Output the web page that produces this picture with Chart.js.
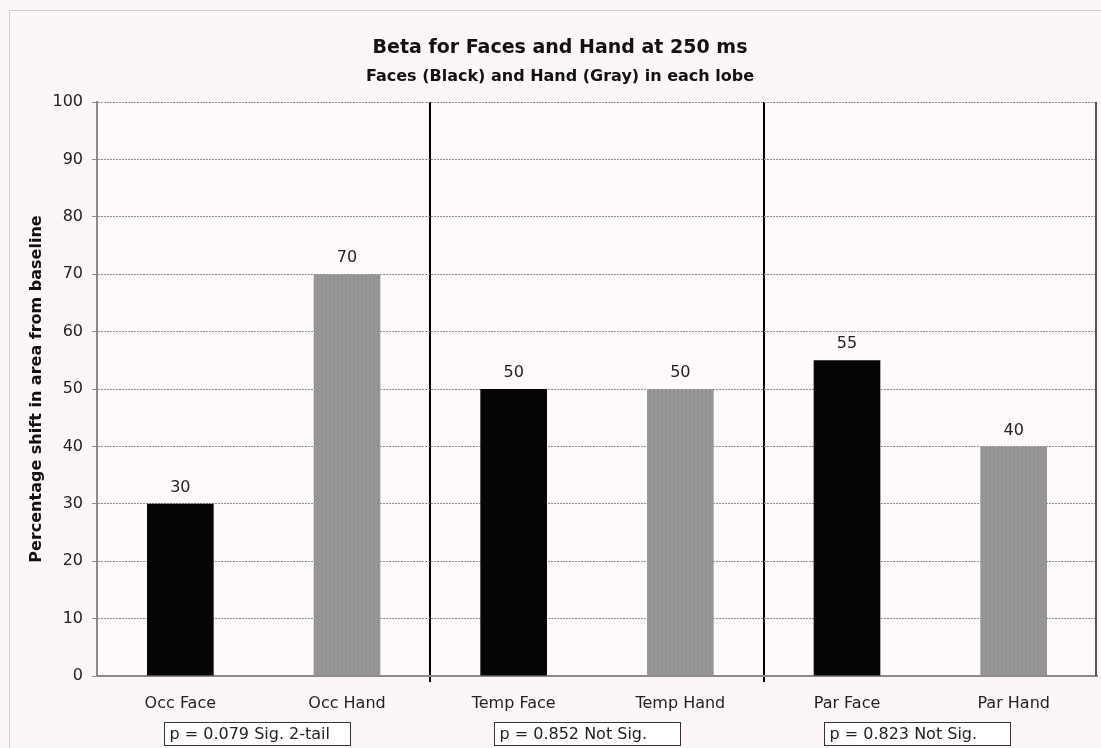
<!DOCTYPE html>
<html>
<head>
<meta charset="utf-8">
<script src="https://cdn.jsdelivr.net/npm/chart.js@4.4.1/dist/chart.umd.min.js"></script>
<style>
  html, body { margin: 0; padding: 0; background: #fcf6f8; }
  #wrap { position: relative; width: 1101px; height: 748px; }
</style>
</head>
<body>
<div id="wrap"><canvas id="c" width="1101" height="748"></canvas></div>
<script>
// Categories and values per lobe
const categories = ['Occ Face', 'Occ Hand', 'Temp Face', 'Temp Hand', 'Par Face', 'Par Hand'];
const shiftValues = [30, 70, 50, 50, 55, 40];
const barKinds = ['face', 'hand', 'face', 'hand', 'face', 'hand'];
const yTicks = [0, 10, 20, 30, 40, 50, 60, 70, 80, 90, 100];
// Significance notes per lobe: first category index of the pair and the text
const pairStarts = [0, 2, 4];
const pairNotes = ['p = 0.079 Sig. 2-tail', 'p = 0.852 Not Sig.', 'p = 0.823 Not Sig.'];
const FONT = '"DejaVu Sans", Verdana, sans-serif';

// Speckled gray fill for the hand bars
function grayPattern() {
  const p = document.createElement('canvas');
  p.width = 4; p.height = 4;
  const g = p.getContext('2d');
  const shades = ['#8a8a8a', '#9f9f9f', '#959595', '#8e8e8e',
                  '#9c9c9c', '#868686', '#989898', '#a2a2a2',
                  '#909090', '#9b9b9b', '#888888', '#9d9d9d',
                  '#a0a0a0', '#8c8c8c', '#979797', '#929292'];
  for (let i = 0; i < 16; i++) {
    g.fillStyle = shades[i];
    g.fillRect(i % 4, Math.floor(i / 4), 1, 1);
  }
  return g.createPattern(p, 'repeat');
}
const handFill = grayPattern();

const framePlugin = {
  id: 'frame',
  beforeDraw(chart) {
    const { ctx, chartArea: a } = chart;
    ctx.save();
    ctx.fillStyle = '#fcf6f8';
    ctx.fillRect(0, 0, chart.width, chart.height);
    ctx.fillStyle = '#fefafb';
    ctx.fillRect(a.left, a.top, a.right - a.left, a.bottom - a.top);
    // outer dotted border
    ctx.strokeStyle = '#a0a0a0';
    ctx.lineWidth = 1;
    ctx.setLineDash([1, 1]);
    ctx.strokeRect(9.5, 10.5, 1200, 800);
    ctx.restore();
  },
  afterDraw(chart) {
    const { ctx, chartArea: a } = chart;
    const x = chart.scales.x;
    ctx.save();
    // right border of the plot area
    ctx.strokeStyle = '#555555';
    ctx.lineWidth = 2;
    ctx.beginPath();
    ctx.moveTo(a.right - 1, a.top);
    ctx.lineTo(a.right - 1, a.bottom);
    ctx.stroke();
    // value labels above bars
    ctx.fillStyle = '#222222';
    ctx.font = '16px ' + FONT;
    ctx.textAlign = 'center';
    ctx.textBaseline = 'middle';
    const meta = chart.getDatasetMeta(0);
    meta.data.forEach((bar, i) => {
      ctx.fillText(String(shiftValues[i]), bar.x, bar.y - 16);
    });
    // significance notes in boxes under each pair
    ctx.textAlign = 'left';
    pairStarts.forEach((idx, k) => {
      const left = Math.round(x.getPixelForValue(idx) - 16 - k * 3.5) + 0.5;
      const top = 722.5;
      ctx.fillStyle = '#ffffff';
      ctx.fillRect(left, top, 186, 23);
      ctx.strokeStyle = '#333333';
      ctx.lineWidth = 1;
      ctx.strokeRect(left, top, 186, 23);
      ctx.fillStyle = '#222222';
      ctx.fillText(pairNotes[k], left + 5, top + 12);
    });
    ctx.restore();
  }
};

new Chart(document.getElementById('c'), {
  type: 'bar',
  data: {
    labels: categories,
    datasets: [{
      data: shiftValues,
      backgroundColor: barKinds.map(k => k === 'face' ? '#050505' : handFill),
      borderWidth: 0,
      barPercentage: 0.4,
      categoryPercentage: 1.0
    }]
  },
  options: {
    responsive: false,
    animation: false,
    devicePixelRatio: 1,
    layout: { padding: { left: 23, right: 4, top: 0, bottom: 0 } },
    plugins: {
      legend: { display: false },
      tooltip: { enabled: false },
      title: {
        display: true,
        text: 'Beta for Faces and Hand at 250 ms',
        color: '#111111',
        font: { family: FONT, size: 19, weight: 'bold' },
        padding: { top: 37, bottom: 5 }
      },
      subtitle: {
        display: true,
        text: 'Faces (Black) and Hand (Gray) in each lobe',
        color: '#111111',
        font: { family: FONT, size: 16, weight: 'bold' },
        padding: { top: 2, bottom: 16 }
      }
    },
    scales: {
      x: {
        afterFit(s) { s.height = 72; },
        grid: {
          offset: true,
          drawOnChartArea: true,
          color: c => (c.index === 2 || c.index === 4) ? '#000000' : 'rgba(0,0,0,0)',
          lineWidth: 2,
          tickLength: 6
        },
        border: { display: true, color: '#8a8a8a', width: 2 },
        ticks: {
          color: '#222222',
          font: { family: FONT, size: 16 },
          padding: 12,
          maxRotation: 0
        }
      },
      y: {
        min: 0,
        max: 100,
        afterFit(s) { s.width = 74; },
        afterBuildTicks(s) { s.ticks = yTicks.map(v => ({ value: v })); },
        grid: {
          color: '#8f8f8f',
          lineWidth: 1,
          tickLength: 5
        },
        border: { display: true, color: '#8a8a8a', width: 2, dash: [2, 1] },
        ticks: {
          color: '#222222',
          font: { family: FONT, size: 16 },
          padding: 9
        },
        title: {
          display: true,
          text: 'Percentage shift in area from baseline',
          color: '#111111',
          font: { family: FONT, size: 16, weight: 'bold' },
          padding: { top: 4, bottom: 4 }
        }
      }
    }
  },
  plugins: [framePlugin]
});
</script>
</body>
</html>
